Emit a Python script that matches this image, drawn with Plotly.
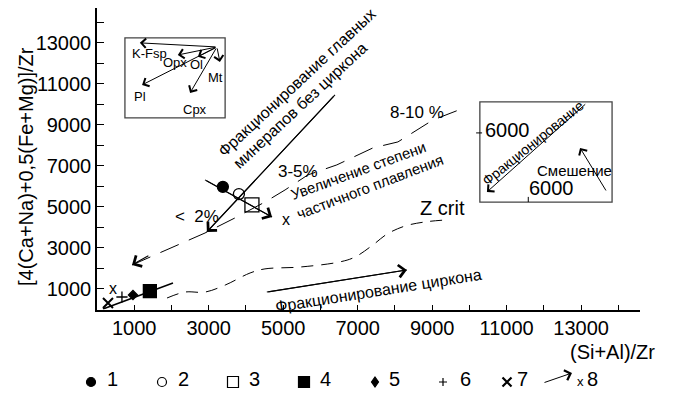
import plotly.graph_objects as go

FONT = "Liberation Sans, Arial, sans-serif"
W, H = 675, 394

# ---------------- data ----------------
sample_labels = ["1", "2", "3", "4", "5", "6", "7"]
sample_x = [3380, 3810, 4160, 1420, 966, 670, 295]
sample_y = [5980, 5630, 5100, 900, 710, 610, 320]
sample_symbols = ["circle", "circle-open", "square-open", "square", "diamond", "cross-thin-open", "x-thin-open"]
sample_sizes = [11, 11, 14, 13, 7, 8, 10]

# partial melting curve (dashed, arrow at low end)
melt_x = [940, 1960, 2900, 3700, 4510, 5050, 5660, 6440, 7410, 8080, 9020, 9930]
melt_y = [2170, 3000, 3730, 4460, 5240, 5830, 6560, 7050, 7880, 8170, 9240, 9880]

# Z crit curve
zcrit_x = [1880, 2360, 2900, 3440, 4110, 4510, 5450, 6520, 6930, 7410, 7790, 8270, 8810, 9400]
zcrit_y = [560, 850, 850, 1190, 1780, 1980, 2070, 2320, 2560, 3150, 3680, 4070, 4270, 4370]

# trend lines (legend 8)
trend_upper_x = [2900, 4700]
trend_upper_y = [6320, 4510]
trend_lower_x = [160, 2040]
trend_lower_y = [20, 1290]
trend_mark_x = [5070, 430]
trend_mark_y = [4370, 1000]

# fractionation of main minerals (tail -> head)
mainfrac_x = [6390, 2950]
mainfrac_y = [10460, 3780]
# zircon fractionation (tail -> head)
zirc_x = [4560, 8320]
zirc_y = [850, 1930]

# melting degree labels
deg_labels = ["<  2%", "3-5%", "8-10 %"]
deg_x = [2680, 5400, 8590]
deg_y = [4510, 6710, 9590]

# inset: mineral vectors
inset_box_x = [750, 3440]
inset_box_y = [9340, 13240]
inset_origin = (3220, 12800)
minerals = ["K-Fsp", "Opx", "Ol", "Pl", "Cpx", "Mt"]
min_end_x = [1150, 2170, 2710, 1210, 2500, 3300]
min_end_y = [13000, 12410, 12320, 10950, 10560, 12070]
min_lab_x = [1420, 2090, 2660, 1150, 2630, 3190]
min_lab_y = [12460, 12020, 11930, 10370, 9730, 11290]

# inset: fractionation vs mixing
mix_box_x = [10280, 13830]
mix_box_y = [5240, 10120]
mix_tick_value = "6000"
mix_frac_x = [13150, 10470]
mix_frac_y = [10070, 5730]
mix_mix_x = [13690, 12970]
mix_mix_y = [5730, 7880]

x_ticks = list(range(1000, 15000, 1000))
y_ticks = list(range(1000, 15000, 1000))
x_ticktext = [str(v) if (v // 1000) % 2 == 1 else "" for v in x_ticks]
y_ticktext = [str(v) if (v // 1000) % 2 == 1 else "" for v in y_ticks]

# ---------------- figure ----------------
fig = go.Figure()

fig.add_trace(go.Scatter(x=melt_x, y=melt_y, mode="lines",
                         line=dict(color="black", width=1, dash="20px,11px"), hoverinfo="skip"))
fig.add_trace(go.Scatter(x=zcrit_x, y=zcrit_y, mode="lines",
                         line=dict(color="black", width=1, dash="12px,8px", shape="spline"), hoverinfo="skip"))
fig.add_trace(go.Scatter(x=trend_lower_x, y=trend_lower_y, mode="lines",
                         line=dict(color="black", width=1.6), hoverinfo="skip"))
fig.add_trace(go.Scatter(x=trend_upper_x, y=trend_upper_y, mode="lines",
                         line=dict(color="black", width=1.1), hoverinfo="skip"))
fig.add_trace(go.Scatter(x=mainfrac_x, y=mainfrac_y, mode="lines",
                         line=dict(color="black", width=1.1), hoverinfo="skip"))
fig.add_trace(go.Scatter(x=zirc_x, y=zirc_y, mode="lines",
                         line=dict(color="black", width=1.1), hoverinfo="skip"))

for i, lab in enumerate(sample_labels):
    fig.add_trace(go.Scatter(
        x=[sample_x[i]], y=[sample_y[i]], mode="markers", name=lab,
        marker=dict(symbol=sample_symbols[i], size=sample_sizes[i], color="black",
                    line=dict(color="black", width=1.3 if i != 6 else 2))))

ann = []
def arrow(hx, hy, tx, ty, w=1.1, size=2.2):
    ann.append(dict(x=hx, y=hy, ax=tx, ay=ty, xref="x", yref="y", axref="x", ayref="y",
                    showarrow=True, arrowhead=4, arrowsize=size, arrowwidth=w,
                    arrowcolor="black", standoff=0, text=""))

def text(x, y, t, size=15, angle=0, xanchor="center", xref="x", yref="y"):
    ann.append(dict(x=x, y=y, xref=xref, yref=yref, text=t, showarrow=False, textangle=angle,
                    xanchor=xanchor, yanchor="middle",
                    font=dict(family=FONT, size=size, color="black")))

# arrows
arrow(mainfrac_x[1], mainfrac_y[1], mainfrac_x[0], mainfrac_y[0])
arrow(zirc_x[1], zirc_y[1], zirc_x[0], zirc_y[0])
arrow(trend_upper_x[1], trend_upper_y[1], trend_upper_x[0], trend_upper_y[0])
arrow(melt_x[0], melt_y[0], melt_x[0] + 480, melt_y[0] + 490)
for i in range(len(minerals)):
    arrow(min_end_x[i], min_end_y[i], inset_origin[0], inset_origin[1], w=1, size=1.8)
    text(min_lab_x[i], min_lab_y[i], minerals[i], size=13)
arrow(mix_frac_x[1], mix_frac_y[1], mix_frac_x[0], mix_frac_y[0], w=1, size=1.8)
arrow(mix_mix_x[1], mix_mix_y[1], mix_mix_x[0], mix_mix_y[0], w=1, size=1.8)

# texts
text(5370, 11050, "Фракционирование главных", size=16, angle=-43)
text(5450, 9950, "минерапов без циркона", size=16, angle=-43)
for lab, x, y in zip(deg_labels, deg_x, deg_y):
    text(x, y, lab, size=17)
text(7010, 6800, "Увеличение степени", size=15, angle=-20)
text(7330, 6020, "частичного плавления", size=15, angle=-21)
for x, y in zip(trend_mark_x, trend_mark_y):
    text(x, y, "x", size=16)
text(9290, 4950, "Z crit", size=20)
text(7570, 950, "Фракционирование циркона", size=16, angle=-9)
text(11010, 8760, mix_tick_value, size=20)
text(12210, 5930, mix_tick_value, size=20)
text(11700, 8120, "Фракционирование", size=14, angle=-39)
text(12830, 6800, "Смешение", size=15)

# layout helpers: page pixel -> paper fraction (margins are zero, so paper = page)
def px_x(p):
    return p / W
def px_y(p):
    return 1 - p / H

text(px_x(26), px_y(167), "[4(Ca+Na)+0,5(Fe+Mg)]/Zr", size=20, angle=-90, xref="paper", yref="paper")
text(px_x(657), px_y(352), "(Si+Al)/Zr", size=20, xanchor="right", xref="paper", yref="paper")

# legend row: key shapes + labels
shapes = []
def key(cx, cy, kind):
    base = dict(xref="paper", yref="paper", xsizemode="pixel", ysizemode="pixel",
                xanchor=px_x(cx), yanchor=px_y(cy), line=dict(color="black", width=1.2))
    if kind == "dot":
        shapes.append(dict(base, type="circle", x0=-4.5, x1=4.5, y0=-4.5, y1=4.5, fillcolor="black"))
    elif kind == "ring":
        shapes.append(dict(base, type="circle", x0=-4.5, x1=4.5, y0=-4.5, y1=4.5))
    elif kind == "box":
        shapes.append(dict(base, type="rect", x0=-5.5, x1=5.5, y0=-5.5, y1=5.5))
    elif kind == "fbox":
        shapes.append(dict(base, type="rect", x0=-5.5, x1=5.5, y0=-5.5, y1=5.5, fillcolor="black"))
    elif kind == "diamond":
        shapes.append(dict(base, type="path", path="M0,5 L3.5,0 L0,-5 L-3.5,0 Z", fillcolor="black"))
    elif kind == "plus":
        shapes.append(dict(base, type="path", path="M-4,0 L4,0 M0,-4 L0,4"))
    elif kind == "cross":
        b = dict(base); b["line"] = dict(color="black", width=2.2)
        shapes.append(dict(b, type="path", path="M-4.5,-4.5 L4.5,4.5 M-4.5,4.5 L4.5,-4.5"))

leg_kinds = ["dot", "ring", "box", "fbox", "diamond", "plus", "cross"]
leg_gx = [91, 162, 233, 304, 375, 443, 507]
leg_nx = [112, 183, 254, 325, 395, 465, 522]
for kind, gx, nx, lab in zip(leg_kinds, leg_gx, leg_nx, sample_labels):
    key(gx, 382, kind)
    text(px_x(nx), px_y(379), lab, size=20, xref="paper", yref="paper")
ann.append(dict(x=px_x(572), y=px_y(373), ax=-29, ay=10, xref="paper", yref="paper",
                showarrow=True, arrowhead=4, arrowsize=2, arrowwidth=1,
                arrowcolor="black", standoff=0, text=""))
text(px_x(580), px_y(381), "x", size=13, xref="paper", yref="paper")
text(px_x(592), px_y(379), "8", size=20, xref="paper", yref="paper")

shapes += [
    dict(type="rect", xref="x", yref="y", x0=inset_box_x[0], x1=inset_box_x[1],
         y0=inset_box_y[0], y1=inset_box_y[1], line=dict(color="#444", width=1.3)),
    dict(type="rect", xref="x", yref="y", x0=mix_box_x[0], x1=mix_box_x[1],
         y0=mix_box_y[0], y1=mix_box_y[1], line=dict(color="#444", width=1.3)),
    dict(type="line", xref="x", yref="y", x0=mix_box_x[0] - 100, x1=mix_box_x[0] + 60,
         y0=8610, y1=8610, line=dict(color="black", width=1)),
    dict(type="line", xref="x", yref="y", x0=11580, x1=11580,
         y0=mix_box_y[0], y1=mix_box_y[0] + 250, line=dict(color="black", width=1)),
]

fig.update_layout(
    width=W, height=H, showlegend=False,
    margin=dict(l=0, r=0, t=0, b=0),
    paper_bgcolor="white", plot_bgcolor="white",
    font=dict(family=FONT, color="black"),
    annotations=ann, shapes=shapes,
    xaxis=dict(domain=[97 / W, 640 / W], range=[0, 14580], showgrid=False, zeroline=False,
               showline=True, automargin=False,
               linecolor="black", linewidth=1.5, ticks="inside", ticklen=5, tickcolor="black",
               tickvals=x_ticks, ticktext=x_ticktext, tickfont=dict(size=20, family=FONT)),
    yaxis=dict(domain=[1 - 309.5 / H, 1 - 8 / H], range=[0, 14700], showgrid=False, zeroline=False,
               showline=True, automargin=False,
               linecolor="black", linewidth=1.5, ticks="inside", ticklen=7, tickcolor="black",
               tickvals=y_ticks, ticktext=y_ticktext, tickfont=dict(size=20, family=FONT)),
)

fig.write_html("out.html", config={"displayModeBar": False},
               post_script="document.body.style.margin='0px';")
